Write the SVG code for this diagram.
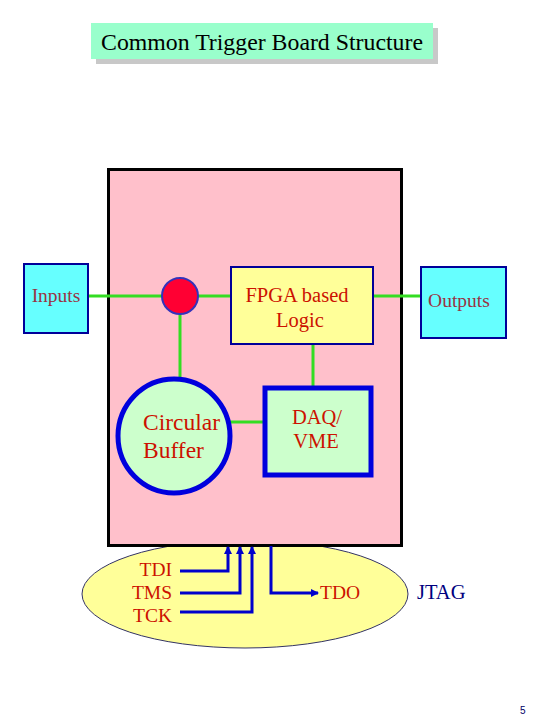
<svg xmlns="http://www.w3.org/2000/svg" width="540" height="720" viewBox="0 0 540 720">
<defs>
<style>
.serif{font-family:"Liberation Serif","Times New Roman",serif}
.red{fill:#CC1100}
.green{stroke:#33DD22;stroke-width:3;fill:none}
.blue{stroke:#0000CC;stroke-width:3;fill:none}
.lbl{fill:#993344}
</style>
<marker id="arr" markerWidth="8" markerHeight="8" refX="7" refY="4" orient="auto" markerUnits="userSpaceOnUse">
<path d="M0,0 L8,4 L0,8 Z" fill="#0000CC"/>
</marker>
</defs>
<rect width="540" height="720" fill="#FFFFFF"/>

<g id="title">
<rect x="96" y="28" width="342" height="36" fill="#C8C8C8"/>
<rect x="91" y="23" width="342" height="36" fill="#99FFCC"/>
<text x="262" y="50" text-anchor="middle" class="serif" font-size="23.8" fill="#000000">Common Trigger Board Structure</text>
</g>

<g id="jtag">
<ellipse cx="245" cy="594" rx="163" ry="54" fill="#FFFF99" stroke="#333366" stroke-width="1"/>
<text x="417" y="599" class="serif" font-size="20.5" fill="#000080">JTAG</text>
</g>

<g id="board">
<rect x="108.5" y="169.5" width="293" height="376" fill="#FFC0CB" stroke="#000000" stroke-width="3"/>
</g>

<g id="connectors">
<line x1="88" y1="296" x2="162" y2="296" class="green"/>
<line x1="198" y1="296" x2="231" y2="296" class="green"/>
<line x1="373" y1="296" x2="421" y2="296" class="green"/>
<line x1="180" y1="314" x2="180" y2="380" class="green"/>
<line x1="313" y1="344" x2="313" y2="386" class="green"/>
<line x1="230" y1="422" x2="264" y2="422" class="green"/>
<polyline points="180,571 228,571 228,547" class="blue" marker-end="url(#arr)"/>
<polyline points="180,593 240,593 240,547" class="blue" marker-end="url(#arr)"/>
<polyline points="180,612 252,612 252,547" class="blue" marker-end="url(#arr)"/>
<polyline points="271,546 271,593 318,593" class="blue" marker-end="url(#arr)"/>
</g>

<g id="inputs">
<rect x="24" y="264" width="64" height="69" fill="#66FFFF" stroke="#000099" stroke-width="2"/>
<text x="56" y="302" text-anchor="middle" class="serif lbl" font-size="19.5">Inputs</text>
</g>

<g id="junction">
<circle cx="180" cy="296" r="18" fill="#FF0033" stroke="#3333BB" stroke-width="2"/>
</g>

<g id="fpga">
<rect x="231" y="267" width="142" height="77" fill="#FFFF99" stroke="#000099" stroke-width="2"/>
<text x="297" y="302" text-anchor="middle" class="serif red" font-size="20.5">FPGA based</text>
<text x="300" y="327" text-anchor="middle" class="serif red" font-size="20.5">Logic</text>
</g>

<g id="outputs">
<rect x="421" y="267" width="85" height="71" fill="#66FFFF" stroke="#000099" stroke-width="2"/>
<text x="459" y="307" text-anchor="middle" class="serif lbl" font-size="19.5">Outputs</text>
</g>

<g id="buffer">
<ellipse cx="174" cy="436" rx="56" ry="57" fill="#CCFFCC" stroke="#0000DD" stroke-width="5"/>
<text x="143" y="430" class="serif red" font-size="23.5">Circular</text>
<text x="143" y="458" class="serif red" font-size="23.5">Buffer</text>
</g>

<g id="daq">
<rect x="265" y="388" width="106" height="87" fill="#CCFFCC" stroke="#0000DD" stroke-width="5"/>
<text x="317" y="424" text-anchor="middle" class="serif red" font-size="20.5">DAQ/</text>
<text x="316" y="448" text-anchor="middle" class="serif red" font-size="20.5">VME</text>
</g>

<g id="signals">
<text x="172" y="576" text-anchor="end" class="serif red" font-size="19.5">TDI</text>
<text x="172" y="599" text-anchor="end" class="serif red" font-size="19.5">TMS</text>
<text x="172" y="622" text-anchor="end" class="serif red" font-size="19.5">TCK</text>
<text x="320" y="599" class="serif red" font-size="19.5">TDO</text>
</g>

<text x="520" y="714" font-family="Liberation Sans, Arial, sans-serif" font-size="10" fill="#000066">5</text>
</svg>
